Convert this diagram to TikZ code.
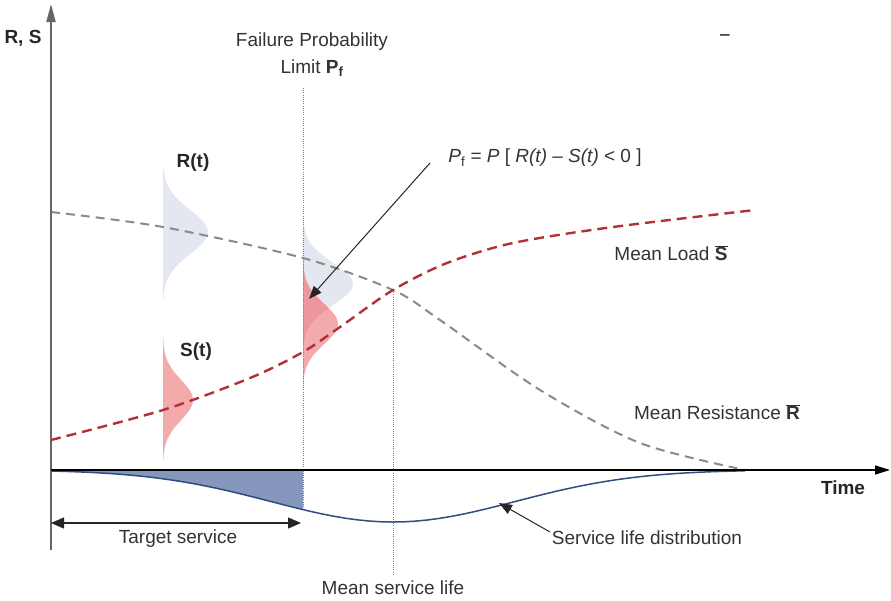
\documentclass[tikz,border=0pt]{standalone}
\usepackage{fontspec}
\setmainfont{Liberation Sans}
\usetikzlibrary{arrows.meta}
\definecolor{txt}{HTML}{333333}
\definecolor{rfill}{HTML}{E3E7F0}
\definecolor{sfill}{HTML}{F2AAAA}
\definecolor{ovfill}{HTML}{EC979D}
\definecolor{slfill}{HTML}{8597BD}
\definecolor{slline}{HTML}{2F4D80}
\definecolor{loadred}{HTML}{B3303A}
\definecolor{resgray}{HTML}{8A8A8A}
\begin{document}
\begin{tikzpicture}[x=1pt,y=-1pt,
  lbl/.style={font=\fontsize{19}{22}\selectfont, text=txt, inner sep=0pt},
  blbl/.style={lbl, font=\fontsize{19}{22}\selectfont\bfseries, text=black!85},
  dotline/.style={gray, line width=0.8pt, dash pattern=on 1pt off 1.2pt},
  loadcurve/.style={loadred, line width=2.4pt, dash pattern=on 10pt off 6pt},
  rescurve/.style={resgray, line width=2pt, dash pattern=on 9pt off 6pt},
  pointer/.style={black!85, line width=1pt, -{Triangle[length=13pt,width=10pt]}},
  dblarrow/.style={black!85, line width=1.2pt, {Triangle[length=13pt,width=11pt]}-{Triangle[length=13pt,width=11pt]}},
  samples=60, variable=\t]
\useasboundingbox (0,0) rectangle (891,600);

% distribution shapes
\fill[rfill] (163,167) -- plot[domain=167:300] ({163+45*exp(-((\t-232)/22)*((\t-232)/22)/2)},{\t}) -- (163,300) -- cycle;
\fill[sfill] (163,337) -- plot[domain=337:460] ({163+30*exp(-((\t-400)/20)*((\t-400)/20)/2)},{\t}) -- (163,460) -- cycle;
\fill[rfill] (303,220) -- plot[domain=220:345] ({303+50*exp(-((\t-284)/21)*((\t-284)/21)/2)},{\t}) -- (303,345) -- cycle;
\fill[sfill] (303,260) -- plot[domain=260:388] ({303+35*exp(-((\t-324)/20)*((\t-324)/20)/2)},{\t}) -- (303,388) -- cycle;
\begin{scope}
  \clip (303,220) -- plot[domain=220:345] ({303+50*exp(-((\t-284)/21)*((\t-284)/21)/2)},{\t}) -- (303,345) -- cycle;
  \fill[ovfill] (303,260) -- plot[domain=260:388] ({303+35*exp(-((\t-324)/20)*((\t-324)/20)/2)},{\t}) -- (303,388) -- cycle;
\end{scope}

% service life fill
\fill[slfill] (51,470) -- plot[domain=51:303] ({\t},{470+52*exp(-((\t-393)/122)*((\t-393)/122)/2)}) -- (303,470) -- cycle;

% dotted verticals
\coordinate (v1t) at (303,88);
\coordinate (v1b) at (303,507);
\coordinate (v2t) at (393,290);
\coordinate (v2b) at (393,576);
\draw[dotline] (v1t) -- (v1b);
\draw[dotline] (v2t) -- (v2b);

% mean curves
\draw[rescurve] plot[smooth] coordinates {(51,212) (163,227) (303,258) (393,290) (440,320) (540,390) (640,443) (745,470)};
\draw[loadcurve] plot[smooth] coordinates {(51,440) (163,410) (250,378) (303,352) (340,327) (393,290) (447,263) (513,243) (613,227) (755,210)};

% service life curve
\draw[slline, line width=1.5pt] plot[domain=51:745] ({\t},{470+52*exp(-((\t-393)/122)*((\t-393)/122)/2)});

% axes
\coordinate (o) at (51,470);
\coordinate (ytop) at (51,4);
\coordinate (ybot) at (51,550);
\coordinate (xend) at (890,470);
\draw[black!60, line width=2pt, -{Triangle[length=18pt,width=9pt]}] (ybot) -- (ytop);
\draw[black, line width=1.3pt, -{Triangle[length=15pt,width=9pt]}] (o) -- (xend);

% labels
\node[blbl] (rs) at (23,38) {R, S};
\node[lbl] (fp1) at (312,42) {Failure Probability};
\node[lbl] (fp2) at (312,68) {Limit \textbf{P\textsubscript{f}}};
\node[blbl, text=black!70] (dash) at (725,37) {–};
\node[blbl] (rt) at (193,163) {R(t)};
\node[blbl] (st) at (196,352) {S(t)};
\node[lbl] (pf) at (545,158) {\textit{P}\textsubscript{f} = \textit{P} [ \textit{R(t)} – \textit{S(t)} < 0 ]};
\node[lbl] (ml) at (671,253) {Mean Load $\overline{\mbox{\bfseries S}}$};
\node[lbl] (mr) at (717,412) {Mean Resistance $\overline{\mbox{\bfseries R}}$};
\node[blbl] (time) at (843,488) {Time};
\node[lbl] (ts) at (178,539) {Target service};
\node[lbl] (sld) at (647,538) {Service life distribution};
\node[lbl] (msl) at (393,588) {Mean service life};

% arrows
\coordinate (pfs) at (430,163);
\coordinate (pft) at (309,299);
\draw[pointer] (pfs) -- (pft);
\coordinate (sls) at (550,532);
\coordinate (slt) at (499,503);
\draw[pointer] (sls) -- (slt);
\coordinate (tsl) at (51,523);
\coordinate (tsr) at (301,523);
\draw[dblarrow] (tsl) -- (tsr);
\end{tikzpicture}
\end{document}
